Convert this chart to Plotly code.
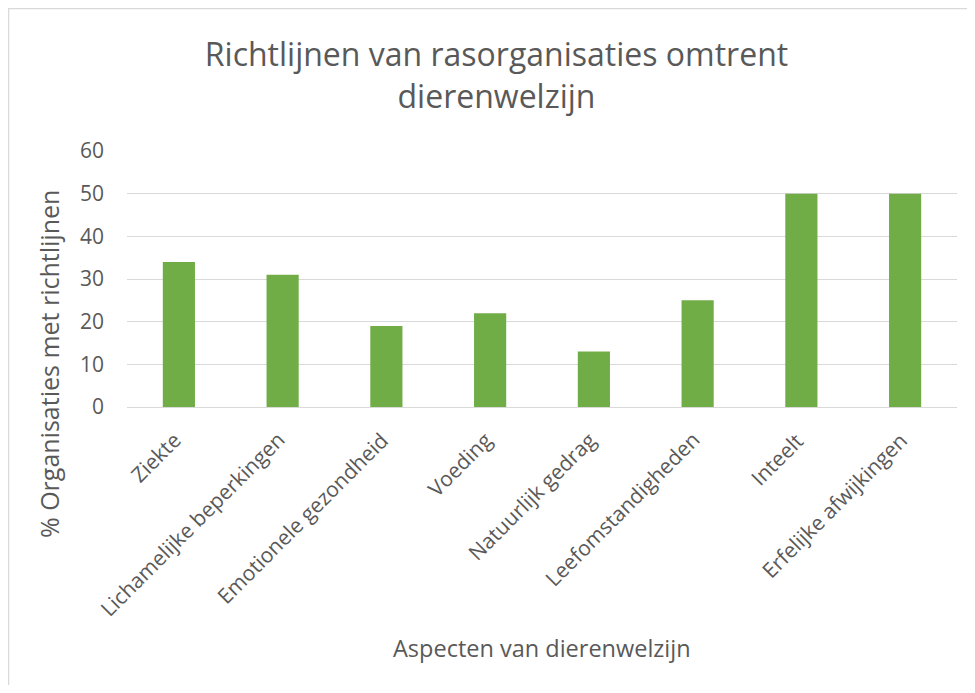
import plotly.graph_objects as go

categories = ["Ziekte", "Lichamelijke beperkingen", "Emotionele gezondheid", "Voeding",
              "Natuurlijk gedrag", "Leefomstandigheden", "Inteelt", "Erfelijke afwijkingen"]
values = [34, 31, 19, 22, 13, 25, 50, 50]
y_ticks = [0, 10, 20, 30, 40, 50, 60]

FONT = "Open Sans, Noto Sans, sans-serif"
GREY = "#595959"

OFF = 8  # default page body margin
W, H = 975 - 2 * OFF, 693 - 2 * OFF
# plot area in page coordinates -> figure coordinates
L, R, T, B = 127 - OFF, 957 - OFF, 151 - OFF, 407 - OFF
pw, ph = R - L, B - T

def px(x):
    return (x - OFF - L) / pw

def py(y):
    return (B - (y - OFF)) / ph

fig = go.Figure(go.Bar(x=categories, y=values, marker=dict(color="#70ad47", line=dict(width=0))))

tick_annotations = [
    dict(text=c, xref="x", yref="paper", x=c, y=py(425), xanchor="right", yanchor="top",
         xshift=9, textangle=-45, showarrow=False, borderpad=0,
         font=dict(size=21, color=GREY, family=FONT))
    for c in categories
]

fig.update_layout(
    width=W, height=H,
    margin=dict(l=L, r=W - R, t=T, b=H - B, pad=0),
    paper_bgcolor="white", plot_bgcolor="white",
    bargap=0.69,
    showlegend=False,
    font=dict(family=FONT, color=GREY),
    title=dict(text="Richtlijnen van rasorganisaties omtrent<br>dierenwelzijn",
               x=488.5 / W, xanchor="center", y=1 - 58 / H, yanchor="middle",
               font=dict(size=32, color=GREY, family=FONT)),
    xaxis=dict(showticklabels=False, showgrid=False, range=[-0.5, len(categories) - 0.5],
               autorange=False,
               showline=True, linecolor="#d9d9d9", linewidth=1, ticks=""),
    yaxis=dict(range=[0, 60], tickvals=y_ticks, tickfont=dict(size=21, color=GREY),
               showgrid=True, gridcolor="#d9d9d9", gridwidth=1, zeroline=False,
               ticks="", ticklabelstandoff=22),
    shapes=[dict(type="path", xref="paper", yref="paper",
                 path=f"M {px(8.5)} {py(H + 30)} L {px(8.5)} {py(8.5)} L {px(1000)} {py(8.5)}",
                 line=dict(color="#d9d9d9", width=1.5))],
    annotations=tick_annotations + [
        dict(text="Aspecten van dierenwelzijn", xref="paper", yref="paper",
             x=px(541.5), y=py(648), xanchor="center", yanchor="middle", showarrow=False,
             font=dict(size=23.5, color=GREY, family=FONT)),
        dict(text="% Organisaties met richtlijnen", xref="paper", yref="paper",
             x=px(49), y=py(364), xanchor="center", yanchor="middle", showarrow=False,
             textangle=-90, font=dict(size=25, color=GREY, family=FONT)),
    ],
)

fig.write_html("out.html")
